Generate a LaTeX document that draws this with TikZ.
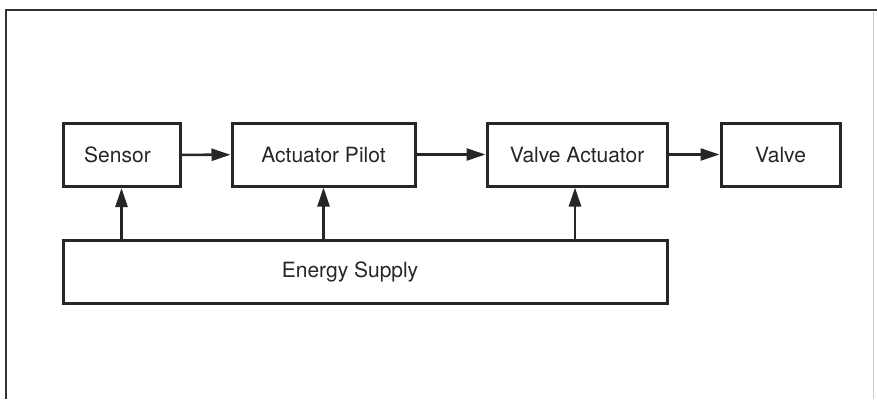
\documentclass[tikz,border=0pt]{standalone}
\usepackage{fontspec}
\setmainfont{TeX Gyre Heros}
\usetikzlibrary{arrows.meta}
\begin{document}
\begin{tikzpicture}[x=1pt,y=-1pt,
  blk/.style={draw=black!85,line width=3pt,minimum height=63pt,inner sep=0pt,font=\fontsize{21}{24}\selectfont,text=black!85},
  conn/.style={draw=black!85,line width=2.6pt,-{Triangle[length=19pt,width=12pt]}},
  frm/.style={draw=black!80,line width=2.6pt}]
\useasboundingbox (0,0) rectangle (877,399);
\node[blk,minimum width=117pt] (s) at (121.5,155) {\hspace*{-8pt}Sensor};
\node[blk,minimum width=183pt] (ap) at (323.5,154.5) {Actuator Pilot};
\node[blk,minimum width=180pt] (va) at (577,154.5) {Valve Actuator};
\node[blk,minimum width=119pt] (v) at (780.5,154.5) {Valve};
\node[blk,minimum width=604pt] (es) at (365,271.5) {\hspace*{-30pt}Energy Supply};
\coordinate (ftl) at (6,10);
\coordinate (ftr) at (877,10);
\coordinate (fbl) at (6,399);
\draw[frm] (fbl) -- (ftl) -- (ftr);
\coordinate (rt) at (873,12);
\coordinate (rb) at (873,399);
\draw[black!20,line width=1pt] (rt) -- (rb);
\draw[conn] (s) -- (ap);
\draw[conn] (ap) -- (va);
\draw[conn] (va) -- (v);
\draw[conn] (s.south |- es.north) -- (s.south);
\draw[conn] (ap.south |- es.north) -- (ap.south);
\draw[conn] ([xshift=-2pt]va.south |- es.north) -- ([xshift=-2pt]va.south);
\end{tikzpicture}
\end{document}
